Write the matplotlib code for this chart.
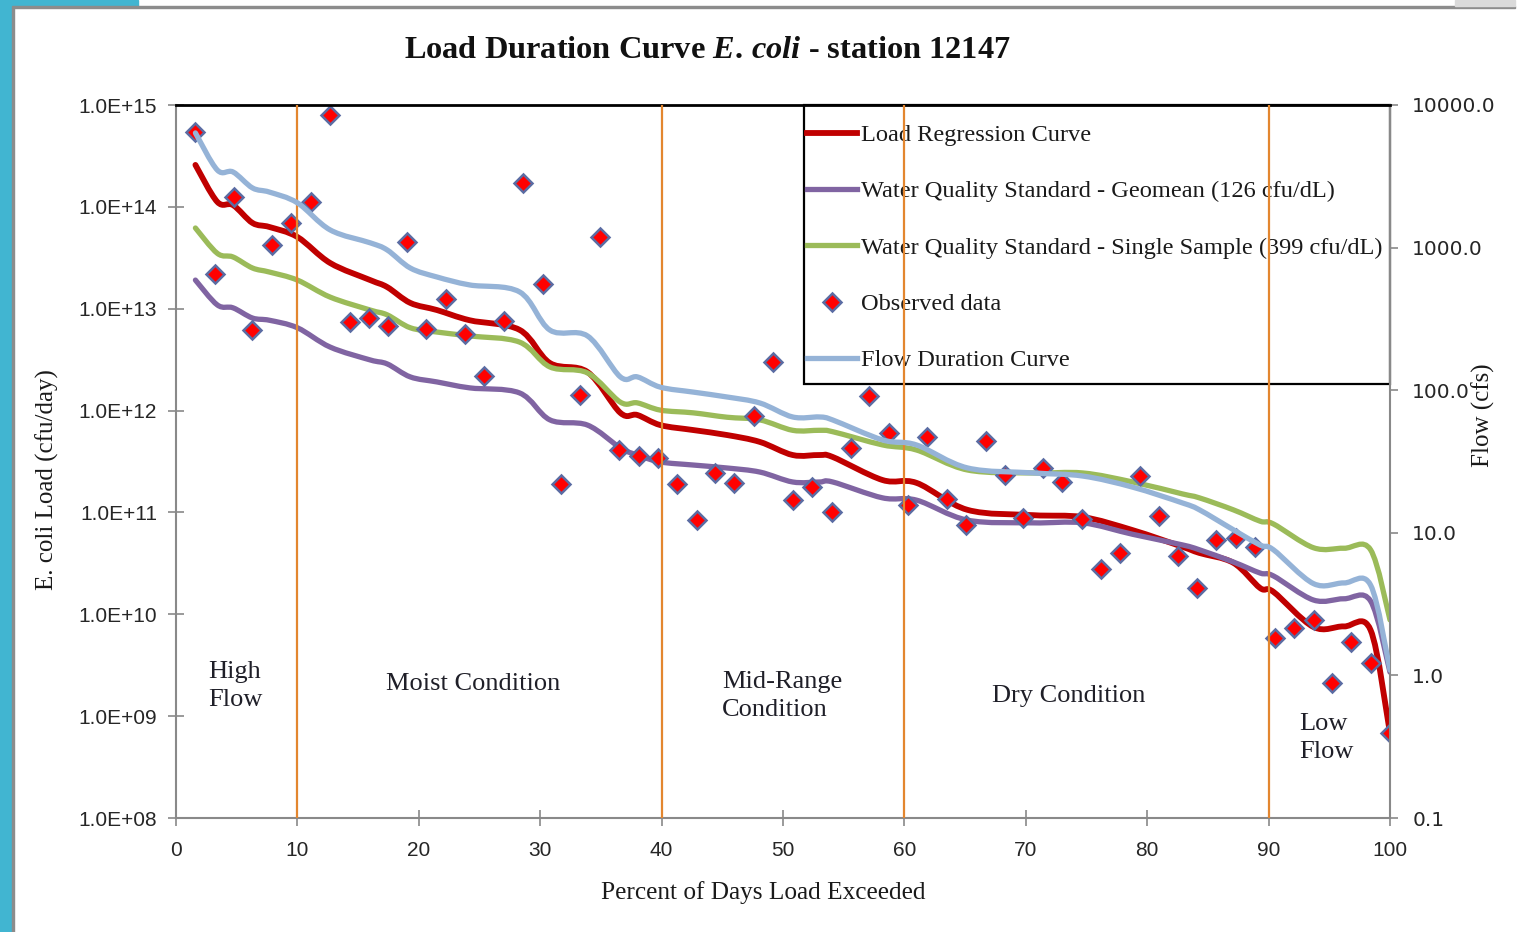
import numpy as np
import matplotlib.pyplot as plt
from matplotlib.patches import Rectangle, PathPatch
from matplotlib.path import Path
from matplotlib.lines import Line2D
from matplotlib.ticker import NullLocator

# ---- data ----
# observed samples: percent of days exceeded, E. coli load (cfu/day)
obs_pct = [1.6, 3.2, 4.8, 6.3, 7.9, 9.5, 11.1, 12.7, 14.3, 15.9, 17.5, 19.0, 20.6, 22.2,
           23.8, 25.4, 27.0, 28.6, 30.2, 31.7, 33.3, 34.9, 36.5, 38.1, 39.7, 41.3, 42.9,
           44.4, 46.0, 47.6, 49.2, 50.8, 52.4, 54.0, 55.6, 57.1, 58.7, 60.3, 61.9, 63.5,
           65.1, 66.7, 68.3, 69.8, 71.4, 73.0, 74.6, 76.2, 77.8, 79.4, 81.0, 82.5, 84.1,
           85.7, 87.3, 88.9, 90.5, 92.1, 93.7, 95.2, 96.8, 98.4, 100.0]
obs_load = [5.4e14, 2.2e13, 1.25e14, 6.2e12, 4.2e13, 6.9e13, 1.12e14, 8.0e14, 7.4e12, 8.1e12,
            6.8e12, 4.5e13, 6.3e12, 1.24e13, 5.6e12, 2.2e12, 7.6e12, 1.7e14, 1.75e13, 1.9e11,
            1.42e12, 5.1e13, 4.1e11, 3.6e11, 3.4e11, 1.9e11, 8.4e10, 2.44e11, 1.95e11, 8.8e11,
            3.0e12, 1.32e11, 1.78e11, 1.0e11, 4.3e11, 1.39e12, 6.0e11, 1.18e11, 5.5e11, 1.36e11,
            7.5e10, 5.0e11, 2.33e11, 8.8e10, 2.7e11, 2.0e11, 8.6e10, 2.8e10, 4.0e10, 2.3e11,
            9.2e10, 3.7e10, 1.8e10, 5.4e10, 5.6e10, 4.6e10, 5.8e9, 7.3e9, 8.8e9, 2.1e9,
            5.3e9, 3.3e9, 6.8e8]

# curves
curve_pct = [1.6, 3.4, 4.7, 6.3, 7.7, 10.0, 12.7, 16.0, 17.4, 19.3, 21.5, 24.2, 28.3, 30.8,
             33.9, 36.6, 38.0, 39.9, 42.6, 45.4, 48.1, 50.8, 53.0, 54.1, 58.2, 61.0, 65.2,
             70.6, 74.7, 78.8, 82.9, 84.3, 87.1, 89.3, 90.4, 93.7, 96.2, 98.4, 100.0]
load_regression = [2.58e14, 1.12e14, 1.04e14, 6.95e13, 6.34e13, 5.06e13, 2.81e13, 1.91e13,
                   1.63e13, 1.14e13, 9.7e12, 7.7e12, 6.2e12, 2.93e12, 2.39e12, 9.5e11, 9.05e11,
                   7.2e11, 6.44e11, 5.75e11, 4.92e11, 3.66e11, 3.66e11, 3.5e11, 2.08e11, 1.95e11,
                   1.06e11, 9.4e10, 9.0e10, 6.7e10, 4.6e10, 4.0e10, 3.2e10, 1.81e10, 1.66e10,
                   7.5e9, 7.6e9, 7.0e9, 6.8e8]
wqs_geomean = [1.91e13, 1.09e13, 1.02e13, 8.1e12, 7.7e12, 6.5e12, 4.2e12, 3.14e12, 2.87e12,
               2.14e12, 1.91e12, 1.67e12, 1.49e12, 8.1e11, 7.2e11, 4.3e11, 3.66e11, 3.13e11,
               2.92e11, 2.73e11, 2.49e11, 1.99e11, 1.99e11, 1.99e11, 1.39e11, 1.32e11, 8.4e10,
               7.9e10, 7.9e10, 6.1e10, 4.8e10, 4.3e10, 3.26e10, 2.54e10, 2.38e10, 1.38e10,
               1.42e10, 1.35e10, 2.7e9]
wqs_single = [6.2e13, 3.5e13, 3.22e13, 2.51e13, 2.29e13, 1.91e13, 1.3e13, 9.7e12, 8.7e12,
              6.5e12, 5.9e12, 5.4e12, 4.7e12, 2.68e12, 2.34e12, 1.21e12, 1.19e12, 1.01e12,
              9.5e11, 8.6e11, 8.1e11, 6.4e11, 6.4e11, 6.2e11, 4.6e11, 4.1e11, 2.61e11, 2.44e11,
              2.44e11, 1.99e11, 1.52e11, 1.39e11, 1.06e11, 8.2e10, 7.7e10, 4.5e10, 4.45e10,
              4.3e10, 8.8e9]
flow_cfs = [6370, 3500, 3390, 2620, 2450, 2060, 1330, 1080, 962, 719, 622, 547, 489, 264, 240,
            124, 124, 105, 97, 89.6, 81.3, 64.9, 64.9, 61.8, 44.8, 41.3, 28.5, 26.3, 25.0, 20.9,
            16.2, 14.5, 10.5, 8.2, 7.6, 4.4, 4.45, 4.3, 1.09]

zone_breaks = [10, 40, 60, 90]
zone_names = ['High\nFlow', 'Moist Condition', 'Mid-Range\nCondition', 'Dry Condition', 'Low\nFlow']

left_ticks = [1e8, 1e9, 1e10, 1e11, 1e12, 1e13, 1e14, 1e15]
left_labels = ['1.0E+08', '1.0E+09', '1.0E+10', '1.0E+11', '1.0E+12', '1.0E+13', '1.0E+14', '1.0E+15']
right_ticks = [0.1, 1, 10, 100, 1000, 10000]
right_labels = ['0.1', '1.0', '10.0', '100.0', '1000.0', '10000.0']


def smooth_path(xs, ys):
    # Excel-style smoothed line: Catmull-Rom segments as cubic Beziers, built in log space
    x = np.asarray(xs, float)
    y = np.log10(np.asarray(ys, float))
    n = len(x)
    verts = [(x[0], y[0])]
    codes = [Path.MOVETO]
    for i in range(n - 1):
        a, b = max(i - 1, 0), min(i + 2, n - 1)
        c1 = (x[i] + (x[i + 1] - x[a]) / 6, y[i] + (y[i + 1] - y[a]) / 6)
        c2 = (x[i + 1] - (x[b] - x[i]) / 6, y[i + 1] - (y[b] - y[i]) / 6)
        verts += [c1, c2, (x[i + 1], y[i + 1])]
        codes += [Path.CURVE4] * 3
    verts = [(vx, 10 ** vy) for vx, vy in verts]
    return Path(verts, codes)


# ---- fonts ----
plt.rcParams['font.family'] = ['Liberation Serif', 'DejaVu Serif']
plt.rcParams['mathtext.fontset'] = 'custom'
plt.rcParams['mathtext.rm'] = 'Liberation Serif:bold'
plt.rcParams['mathtext.it'] = 'Liberation Serif:italic:bold'

W, H = 1524, 932
def fx(px):
    return px / W
def fy(py):
    return 1 - py / H

fig = plt.figure(figsize=(W / 100, H / 100), dpi=100)

# screenshot frame around the chart
fig.patches.append(Rectangle((0, 0), fx(12), 1, transform=fig.transFigure, color='#41B5D1', zorder=0))
fig.patches.append(Rectangle((0, fy(6)), fx(138), 6 / H, transform=fig.transFigure, color='#41B5D1', zorder=0))
fig.patches.append(Rectangle((fx(12), fy(8)), fx(1503), 2 / H, transform=fig.transFigure, color='#8C8C8C', zorder=0))
fig.patches.append(Rectangle((fx(12), 0), 2 / W, fy(8), transform=fig.transFigure, color='#8C8C8C', zorder=0))
fig.patches.append(Rectangle((fx(1455), fy(6)), fx(60), 6 / H, transform=fig.transFigure, color='#DADADA', zorder=0))

ax = fig.add_axes([fx(176), fy(818), fx(1390) - fx(176), fy(105) - fy(818)])
ax2 = ax.twinx()

ax.set_yscale('log')
ax.set_xlim(0, 100)
ax.set_ylim(1e8, 1e15)
ax2.set_yscale('log')
ax2.set_ylim(0.1, 10000)

red, purple, green, light_blue = '#C00000', '#8064A2', '#9BBB59', '#95B3D7'

ax.add_patch(PathPatch(smooth_path(curve_pct, load_regression), facecolor='none', edgecolor=red,
                       lw=4.2, capstyle='round', joinstyle='round', zorder=3))
ax.add_patch(PathPatch(smooth_path(curve_pct, wqs_geomean), facecolor='none', edgecolor=purple,
                       lw=3.8, capstyle='round', joinstyle='round', zorder=3))
ax.add_patch(PathPatch(smooth_path(curve_pct, wqs_single), facecolor='none', edgecolor=green,
                       lw=3.8, capstyle='round', joinstyle='round', zorder=3))
l_obs, = ax.plot(obs_pct, obs_load, linestyle='none', marker='D', markersize=9,
                 markerfacecolor='#FF0000', markeredgecolor='#5B6CA3', markeredgewidth=1.8,
                 zorder=5, label='Observed data')
ax2.add_patch(PathPatch(smooth_path(curve_pct, flow_cfs), facecolor='none', edgecolor=light_blue,
                        lw=3.8, capstyle='round', joinstyle='round', zorder=4))

# flow zone dividers (drawn over the legend box like in the original)
for xb in zone_breaks:
    ax2.axvline(xb, color='#E3862F', lw=1.6, zorder=3)

# legend box
box = Rectangle((fx(804), fy(384)), fx(1390) - fx(804), fy(105) - fy(384), transform=fig.transFigure,
                facecolor='white', edgecolor='black', lw=1.6, zorder=1, clip_on=False)
ax2.add_patch(box)
handles = [Line2D([], [], color=red, lw=4.2),
           Line2D([], [], color=purple, lw=3.8),
           Line2D([], [], color=green, lw=3.8),
           l_obs,
           Line2D([], [], color=light_blue, lw=3.8)]
labels = ['Load Regression Curve',
          'Water Quality Standard - Geomean (126 cfu/dL)',
          'Water Quality Standard - Single Sample (399 cfu/dL)',
          'Observed data',
          'Flow Duration Curve']
leg = ax2.legend(handles, labels, loc='upper left', bbox_to_anchor=(fx(807), fy(124)),
                 bbox_transform=fig.transFigure, frameon=False, borderpad=0, borderaxespad=0,
                 fontsize=17.6, handlelength=2.05, handletextpad=0.16, labelspacing=1.4)
leg.set_zorder(2)
for t in leg.get_texts():
    t.set_color('#1a1a1a')

# spines
for s in ['top', 'right']:
    ax.spines[s].set_visible(False)
for s in ['left', 'bottom']:
    ax.spines[s].set_color('#898989')
    ax.spines[s].set_linewidth(1.5)
    ax2.spines[s].set_visible(False)
ax2.spines['right'].set_color('#898989')
ax2.spines['right'].set_linewidth(1.5)
ax2.spines['top'].set_color('black')
ax2.spines['top'].set_linewidth(2)

# ticks
ax.set_xticks(range(0, 101, 10))
ax.set_xticklabels([str(v) for v in range(0, 101, 10)], fontfamily='Liberation Sans', fontsize=15, color='#262626')
ax.set_yticks(left_ticks)
ax.set_yticklabels(left_labels, fontfamily='Liberation Sans', fontsize=15, color='#262626')
ax.yaxis.set_minor_locator(NullLocator())
ax.tick_params(axis='x', direction='inout', length=11, width=1.2, color='#898989', pad=11)
ax.tick_params(axis='y', direction='inout', length=11, width=1.2, color='#898989', pad=8)

ax2.set_yticks(right_ticks)
ax2.set_yticklabels(right_labels, fontfamily='DejaVu Sans', fontsize=14.5, color='#262626')
ax2.yaxis.set_minor_locator(NullLocator())
ax2.tick_params(axis='y', direction='out', length=6, width=1.2, color='#898989', pad=10)

# titles and labels
fig.text(fx(707), fy(50), r'Load Duration Curve $\mathit{E.\,coli}$ - station 12147',
         ha='center', va='center', fontsize=23.3, fontweight='bold', color='#111111')
fig.text(fx(763), fy(893), 'Percent of Days Load Exceeded', ha='center', va='center',
         fontsize=18.2, color='#1a1a1a')
fig.text(fx(47), fy(480), 'E. coli Load (cfu/day)', ha='center', va='center', rotation=90,
         fontsize=18, color='#1a1a1a')
fig.text(fx(1483), fy(415), 'Flow (cfs)', ha='center', va='center', rotation=90,
         fontsize=18, color='#1a1a1a')

# zone names
zone_px = [(208, 686), (386, 684), (722, 696), (992, 696), (1299, 738)]
for name, (px, py) in zip(zone_names, zone_px):
    fig.text(fx(px), fy(py), name, ha='left', va='center', fontsize=19, linespacing=1.31,
             color='#1f1f28')

plt.savefig('out.png', dpi=100)
